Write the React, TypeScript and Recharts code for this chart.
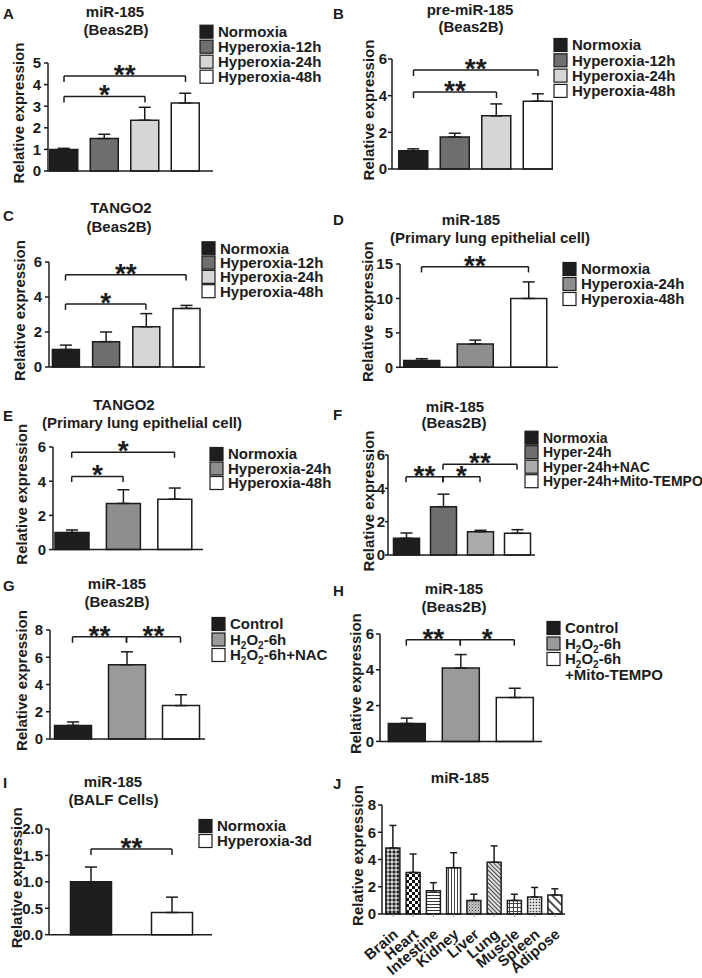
import { BarChart, Bar, XAxis, YAxis, Cell, ErrorBar, ReferenceLine } from 'recharts'

const INK = '#1c1c1c'
const FONT = '"Liberation Sans", Arial, Helvetica, sans-serif'

// ---- data ----
const catsA = ['Normoxia', 'Hyperoxia-12h', 'Hyperoxia-24h', 'Hyperoxia-48h']
const valsA = [1.0, 1.5, 2.35, 3.15]
const errsA = [0.05, 0.2, 0.6, 0.45]
const ticksA = [0, 1, 2, 3, 4, 5]
const bracketsA = [
  { from: 'Normoxia', to: 'Hyperoxia-24h', y: 3.45, text: '*' },
  { from: 'Normoxia', to: 'Hyperoxia-48h', y: 4.4, text: '**' },
]

const catsB = ['Normoxia', 'Hyperoxia-12h', 'Hyperoxia-24h', 'Hyperoxia-48h']
const valsB = [1.0, 1.75, 2.9, 3.7]
const errsB = [0.1, 0.2, 0.65, 0.4]
const ticksB = [0, 2, 4, 6]
const bracketsB = [
  { from: 'Normoxia', to: 'Hyperoxia-24h', y: 4.2, text: '**' },
  { from: 'Normoxia', to: 'Hyperoxia-48h', y: 5.4, text: '**' },
]

const catsC = ['Normoxia', 'Hyperoxia-12h', 'Hyperoxia-24h', 'Hyperoxia-48h']
const valsC = [1.0, 1.45, 2.3, 3.35]
const errsC = [0.25, 0.55, 0.75, 0.17]
const ticksC = [0, 2, 4, 6]
const bracketsC = [
  { from: 'Normoxia', to: 'Hyperoxia-24h', y: 3.6, text: '*' },
  { from: 'Normoxia', to: 'Hyperoxia-48h', y: 5.27, text: '**' },
]

const catsD = ['Normoxia', 'Hyperoxia-24h', 'Hyperoxia-48h']
const valsD = [1.0, 3.4, 10.0]
const errsD = [0.25, 0.55, 2.4]
const ticksD = [0, 5, 10, 15]
const bracketsD = [{ from: 'Normoxia', to: 'Hyperoxia-48h', y: 14.6, text: '**' }]

const catsE = ['Normoxia', 'Hyperoxia-24h', 'Hyperoxia-48h']
const valsE = [1.0, 2.7, 2.95]
const errsE = [0.15, 0.8, 0.65]
const ticksE = [0, 2, 4, 6]
const bracketsE = [
  { from: 'Normoxia', to: 'Hyperoxia-24h', y: 4.28, text: '*' },
  { from: 'Normoxia', to: 'Hyperoxia-48h', y: 5.7, text: '*' },
]

const catsF = ['Normoxia', 'Hyper-24h', 'Hyper-24h+NAC', 'Hyper-24h+Mito-TEMPO']
const valsF = [1.0, 2.9, 1.4, 1.3]
const errsF = [0.32, 0.75, 0.08, 0.22]
const ticksF = [0, 2, 4, 6]
const bracketsF = [
  { from: 'Normoxia', to: 'Hyper-24h', y: 4.7, text: '**' },
  { from: 'Hyper-24h', to: 'Hyper-24h+NAC', y: 4.7, text: '*' },
  { from: 'Hyper-24h', to: 'Hyper-24h+Mito-TEMPO', y: 5.45, text: '**' },
]

const catsG = ['Control', 'H2O2-6h', 'H2O2-6h+NAC']
const valsG = [1.0, 5.45, 2.45]
const errsG = [0.25, 0.95, 0.8]
const ticksG = [0, 2, 4, 6, 8]
const bracketsG = [
  { from: 'Control', to: 'H2O2-6h', y: 7.5, text: '**' },
  { from: 'H2O2-6h', to: 'H2O2-6h+NAC', y: 7.5, text: '**' },
]

const catsH = ['Control', 'H2O2-6h', 'H2O2-6h+Mito-TEMPO']
const valsH = [1.0, 4.1, 2.45]
const errsH = [0.3, 0.75, 0.52]
const ticksH = [0, 2, 4, 6]
const bracketsH = [
  { from: 'Control', to: 'H2O2-6h', y: 5.68, text: '**' },
  { from: 'H2O2-6h', to: 'H2O2-6h+Mito-TEMPO', y: 5.68, text: '*' },
]

const catsI = ['Normoxia', 'Hyperoxia-3d']
const valsI = [1.0, 0.42]
const errsI = [0.28, 0.29]
const ticksI = [0, 0.5, 1.0, 1.5, 2.0]
const bracketsI = [{ from: 'Normoxia', to: 'Hyperoxia-3d', y: 1.62, text: '**' }]

const catsJ = ['Brain', 'Heart', 'Intestine', 'Kidney', 'Liver', 'Lung', 'Muscle', 'Spleen', 'Adipose']
const valsJ = [4.85, 3.05, 1.7, 3.4, 1.0, 3.8, 1.0, 1.25, 1.4]
const errsJ = [1.65, 1.35, 0.6, 1.1, 0.45, 1.2, 0.45, 0.7, 0.45]
const ticksJ = [0, 2, 4, 6, 8]

// ---- styles ----
const fillsTime = ['#1e1e1e', '#6f6f6f', '#d6d6d6', '#ffffff']
const fillsPrim = ['#1e1e1e', '#8e8e8e', '#ffffff']
const fillsF = ['#1e1e1e', '#6e6e6e', '#ababab', '#ffffff']
const fillsH2O2 = ['#1e1e1e', '#9a9a9a', '#ffffff']
const fillsI = ['#1e1e1e', '#ffffff']
const fillsJ = ['url(#pBrain)', 'url(#pHeart)', 'url(#pInt)', 'url(#pKid)', 'url(#pLiver)', 'url(#pLung)', 'url(#pMus)', 'url(#pSpl)', 'url(#pAdi)']

type Box = {
  axisX: number; right: number; top: number; bottom: number
  first: number; step: number; barW: number; cap: number; gap: number
  tickLen?: number; tickGap?: number
}
type Bracket = { from: string; to: string; y: number; text: string }

const YW = 45
const MT = 30
const MR = 6
const MB = 26

function YLabel(props: any) {
  const vb = props.viewBox || { x: 0, y: 0, width: YW, height: 100 }
  const x = vb.x + vb.width - props.gap
  const y = vb.y + vb.height / 2 - 4
  return (
    <text x={x} y={y} transform={`rotate(-90 ${x} ${y})`} textAnchor="middle" dominantBaseline="central"
      fontSize={15} fontWeight={700} fill={INK} fontFamily={FONT}>
      Relative expression
    </text>
  )
}

function AngleTick(props: any) {
  const { x, y, payload } = props
  const px = x + 6
  const py = y + 17
  return (
    <text x={px} y={py} transform={`rotate(-40 ${px} ${py})`} textAnchor="end" fontSize={15} fontWeight={700} fill={INK} fontFamily={FONT}>
      {payload.value}
    </text>
  )
}

function PatternDefs() {
  return (
    <defs>
      <pattern id="pBrain" width="4" height="4" patternUnits="userSpaceOnUse">
        <rect width="4" height="4" fill="#8a8a8a" />
        <rect width="2" height="2" fill="#222" />
        <rect x="2" y="2" width="2" height="2" fill="#d4d4d4" />
      </pattern>
      <pattern id="pHeart" width="6" height="6" patternUnits="userSpaceOnUse">
        <rect width="6" height="6" fill="#fff" />
        <rect width="3" height="3" fill="#111" />
        <rect x="3" y="3" width="3" height="3" fill="#111" />
      </pattern>
      <pattern id="pInt" width="4" height="3" patternUnits="userSpaceOnUse">
        <rect width="4" height="3" fill="#fff" />
        <line x1="0" y1="0.5" x2="4" y2="0.5" stroke="#333" strokeWidth="1" />
      </pattern>
      <pattern id="pKid" width="3" height="4" patternUnits="userSpaceOnUse">
        <rect width="3" height="4" fill="#fff" />
        <line x1="0.5" y1="0" x2="0.5" y2="4" stroke="#444" strokeWidth="1" />
      </pattern>
      <pattern id="pLiver" width="3" height="3" patternUnits="userSpaceOnUse">
        <rect width="3" height="3" fill="#c4c4c4" />
        <rect width="1" height="1" fill="#555" />
        <rect x="1.5" y="1.5" width="1" height="1" fill="#777" />
      </pattern>
      <pattern id="pLung" width="3" height="3" patternUnits="userSpaceOnUse" patternTransform="rotate(-45)">
        <rect width="3" height="3" fill="#e0e0e0" />
        <line x1="0.5" y1="0" x2="0.5" y2="3" stroke="#444" strokeWidth="1" />
      </pattern>
      <pattern id="pMus" width="4" height="4" patternUnits="userSpaceOnUse">
        <rect width="4" height="4" fill="#fff" />
        <path d="M0 0.5H4M0.5 0V4" stroke="#444" strokeWidth="1" />
      </pattern>
      <pattern id="pSpl" width="3" height="3" patternUnits="userSpaceOnUse">
        <rect width="3" height="3" fill="#e4e4e4" />
        <circle cx="1.5" cy="1.5" r="0.8" fill="#333" />
      </pattern>
      <pattern id="pAdi" width="6" height="6" patternUnits="userSpaceOnUse" patternTransform="rotate(-45)">
        <rect width="6" height="6" fill="#fff" />
        <line x1="1" y1="0" x2="1" y2="6" stroke="#222" strokeWidth="1.6" />
      </pattern>
    </defs>
  )
}

interface PanelProps {
  cats: string[]
  vals: number[]
  errs: number[]
  fills: string[]
  ticks: number[]
  brackets?: Bracket[]
  box: Box
  fmt?: (v: number) => string
  angled?: boolean
}

function Panel({ cats, vals, errs, fills, ticks, brackets = [], box, fmt, angled = false }: PanelProps) {
  const xh = angled ? 66 : 8
  const mb = angled ? 0 : MB
  const plotW = box.right - box.axisX
  const plotH = box.bottom - box.top
  // category band placement so bars line up with the figure
  const padL = box.first - box.axisX - box.step / 2
  const padR = plotW - padL - cats.length * box.step
  const ymax = ticks[ticks.length - 1]
  const drop = ymax * 0.055
  const data = cats.map((name, i) => ({ name, value: vals[i], err: [0, errs[i]] }))
  const line = { stroke: INK, strokeWidth: 1.5 }

  return (
    <div style={{ position: 'absolute', left: box.axisX - YW, top: box.top - MT }}>
      <BarChart
        width={YW + plotW + MR}
        height={MT + plotH + xh + mb}
        data={data}
        margin={{ top: MT, right: MR, left: 0, bottom: mb }}
      >
        {angled && <PatternDefs />}
        <XAxis
          dataKey="name"
          padding={{ left: padL, right: padR }}
          axisLine={line}
          tickLine={{ stroke: '#9a9a9a' }}
          tickSize={3}
          height={xh}
          interval={0}
          tick={angled ? <AngleTick /> : false}
        />
        <YAxis
          width={YW}
          domain={[0, ymax]}
          ticks={ticks}
          interval={0}
          tickFormatter={fmt}
          axisLine={line}
          tickLine={line}
          tickSize={box.tickLen ?? 4}
          tickMargin={box.tickGap ?? 3}
          tick={{ fontSize: 15, fontWeight: 700, fill: INK, fontFamily: FONT }}
          label={<YLabel gap={box.gap} />}
        />
        <Bar dataKey="value" barSize={box.barW} stroke={INK} strokeWidth={1.5} isAnimationActive={false}>
          {cats.map((c, i) => (
            <Cell key={c} fill={fills[i]} />
          ))}
          <ErrorBar dataKey="err" direction="y" width={box.cap} stroke={INK} strokeWidth={1.5} isAnimationActive={false} />
        </Bar>
        {brackets.map((b, i) => (
          <ReferenceLine
            key={`h${i}`}
            segment={[{ x: b.from, y: b.y }, { x: b.to, y: b.y }]}
            stroke={INK}
            strokeWidth={1.5}
            label={{ value: b.text, position: 'top', offset: -8, fill: INK, fontSize: 28, fontWeight: 700, fontFamily: FONT }}
          />
        ))}
        {brackets.map((b, i) => (
          <ReferenceLine key={`l${i}`} segment={[{ x: b.from, y: b.y }, { x: b.from, y: b.y - drop }]} stroke={INK} strokeWidth={1.5} />
        ))}
        {brackets.map((b, i) => (
          <ReferenceLine key={`r${i}`} segment={[{ x: b.to, y: b.y }, { x: b.to, y: b.y - drop }]} stroke={INK} strokeWidth={1.5} />
        ))}
      </BarChart>
    </div>
  )
}

// ---- legends / titles (layout only) ----
function Chem({ label }: { label: string }) {
  if (!label.startsWith('H2O2')) return <>{label}</>
  const rest = label.slice(4)
  return (
    <>
      H<tspan fontSize="10" dy="4">2</tspan>
      <tspan dy="-4">O</tspan>
      <tspan fontSize="10" dy="4">2</tspan>
      <tspan dy="-4">{rest}</tspan>
    </>
  )
}

interface LegendProps {
  cats: string[]
  fills: string[]
  sx: number
  y0: number
  dy: number
  fs?: number
  wrap?: boolean
}

function Legend({ cats, fills, sx, y0, dy, fs = 15, wrap = false }: LegendProps) {
  const rows: { text: string; fill?: string }[] = []
  cats.forEach((c, i) => {
    if (wrap && c.includes('+') && c.startsWith('H2O2')) {
      const k = c.indexOf('+')
      rows.push({ text: c.slice(0, k), fill: fills[i] })
      rows.push({ text: c.slice(k) })
    } else rows.push({ text: c, fill: fills[i] })
  })
  return (
    <g>
      {rows.map((r, i) => {
        const cy = y0 + i * dy
        return (
          <g key={i}>
            {r.fill && <rect x={sx} y={cy - 6.5} width={13} height={13} fill={r.fill} stroke={INK} strokeWidth={1.2} />}
            <text x={sx + 18} y={cy + fs * 0.36} fontSize={fs} fontWeight={700} fill={INK}>
              <Chem label={r.text} />
            </text>
          </g>
        )
      })}
    </g>
  )
}

const titles = [
  { x: 115, y: 17, t: 'miR-185' }, { x: 116, y: 35, t: '(Beas2B)' },
  { x: 470, y: 15, t: 'pre-miR-185' }, { x: 471, y: 32, t: '(Beas2B)' },
  { x: 121, y: 213, t: 'TANGO2' }, { x: 119, y: 232, t: '(Beas2B)' },
  { x: 471, y: 225, t: 'miR-185' }, { x: 490, y: 243, t: '(Primary lung epithelial cell)' },
  { x: 124, y: 410, t: 'TANGO2' }, { x: 142, y: 428, t: '(Primary lung epithelial cell)' },
  { x: 455, y: 412, t: 'miR-185' }, { x: 454, y: 428, t: '(Beas2B)' },
  { x: 117, y: 589, t: 'miR-185' }, { x: 117, y: 607, t: '(Beas2B)' },
  { x: 454, y: 594, t: 'miR-185' }, { x: 454, y: 612, t: '(Beas2B)' },
  { x: 113, y: 787, t: 'miR-185' }, { x: 113.5, y: 805, t: '(BALF Cells)' },
  { x: 460, y: 783, t: 'miR-185' },
]

const letters = [
  { x: 3, y: 18.5, t: 'A' }, { x: 333, y: 18.5, t: 'B' },
  { x: 3, y: 221, t: 'C' }, { x: 333, y: 225, t: 'D' },
  { x: 3, y: 421, t: 'E' }, { x: 333, y: 420, t: 'F' },
  { x: 3, y: 591, t: 'G' }, { x: 333, y: 596, t: 'H' },
  { x: 3, y: 788, t: 'I' }, { x: 333, y: 789, t: 'J' },
]

const fmtDec = (v: number) => v.toFixed(1)

export default function App() {
  return (
    <div style={{ position: 'absolute', left: 0, top: 0, width: 702, height: 978, background: '#fff', fontFamily: FONT, overflow: 'hidden' }}>
      <style>{'.recharts-surface{overflow:visible}'}</style>
      <Panel cats={catsA} vals={valsA} errs={errsA} fills={fillsTime} ticks={ticksA} brackets={bracketsA}
        box={{ axisX: 48, right: 213, top: 63, bottom: 171, first: 64, step: 40.5, barW: 28, cap: 6, gap: 30 }} />
      <Panel cats={catsB} vals={valsB} errs={errsB} fills={fillsTime} ticks={ticksB} brackets={bracketsB}
        box={{ axisX: 392, right: 553, top: 59.3, bottom: 169.3, first: 413.5, step: 41.5, barW: 29, cap: 6, gap: 24, tickGap: 1 }} />
      <Panel cats={catsC} vals={valsC} errs={errsC} fills={fillsTime} ticks={ticksC} brackets={bracketsC}
        box={{ axisX: 49, right: 205, top: 262.3, bottom: 367.3, first: 65.5, step: 40.2, barW: 27, cap: 6, gap: 30 }} />
      <Panel cats={catsD} vals={valsD} errs={errsD} fills={fillsPrim} ticks={ticksD} brackets={bracketsD}
        box={{ axisX: 400, right: 558, top: 264, bottom: 367.3, first: 421.5, step: 53.5, barW: 36, cap: 6, gap: 32.5 }} />
      <Panel cats={catsE} vals={valsE} errs={errsE} fills={fillsPrim} ticks={ticksE} brackets={bracketsE}
        box={{ axisX: 53, right: 203, top: 446.7, bottom: 549.3, first: 71.7, step: 51.4, barW: 34, cap: 6, gap: 32 }} />
      <Panel cats={catsF} vals={valsF} errs={errsF} fills={fillsF} ticks={ticksF} brackets={bracketsF}
        box={{ axisX: 388, right: 535, top: 455, bottom: 555, first: 406, step: 37, barW: 26, cap: 6, gap: 20, tickLen: 3, tickGap: 0 }} />
      <Panel cats={catsG} vals={valsG} errs={errsG} fills={fillsH2O2} ticks={ticksG} brackets={bracketsG}
        box={{ axisX: 50, right: 205, top: 630, bottom: 739, first: 72.5, step: 54, barW: 37, cap: 6, gap: 28.5 }} />
      <Panel cats={catsH} vals={valsH} errs={errsH} fills={fillsH2O2} ticks={ticksH} brackets={bracketsH}
        box={{ axisX: 380, right: 542, top: 634.3, bottom: 741.7, first: 406.3, step: 54, barW: 37, cap: 6, gap: 24, tickGap: 2 }} />
      <Panel cats={catsI} vals={valsI} errs={errsI} fills={fillsI} ticks={ticksI} brackets={bracketsI} fmt={fmtDec}
        box={{ axisX: 49, right: 212, top: 829.3, bottom: 935, first: 91, step: 81, barW: 41, cap: 6, gap: 32.5, tickGap: 2 }} />
      <Panel cats={catsJ} vals={valsJ} errs={errsJ} fills={fillsJ} ticks={ticksJ} angled
        box={{ axisX: 382, right: 565, top: 805, bottom: 914, first: 393, step: 20.25, barW: 14, cap: 3.5, gap: 25, tickGap: 2 }} />

      <svg width={702} height={978} style={{ position: 'absolute', left: 0, top: 0, pointerEvents: 'none' }}>
        {letters.map((l) => (
          <text key={l.t} x={l.x} y={l.y} fontSize={15} fontWeight={700} fill={INK}>{l.t}</text>
        ))}
        {titles.map((t, i) => (
          <text key={i} x={t.x} y={t.y} textAnchor="middle" fontSize={15} fontWeight={700} fill={INK}>{t.t}</text>
        ))}
        <Legend cats={catsA} fills={fillsTime} sx={200} y0={31.7} dy={15} />
        <Legend cats={catsB} fills={fillsTime} sx={554} y0={45} dy={15.3} />
        <Legend cats={catsC} fills={fillsTime} sx={202} y0={248.3} dy={14.3} />
        <Legend cats={catsD} fills={fillsPrim} sx={563} y0={269} dy={15} />
        <Legend cats={catsE} fills={fillsPrim} sx={210} y0={454} dy={14.5} />
        <Legend cats={catsF} fills={fillsF} sx={525} y0={437.7} dy={14.5} fs={14} />
        <Legend cats={catsG} fills={fillsH2O2} sx={212} y0={624} dy={15.5} />
        <Legend cats={catsH} fills={fillsH2O2} sx={547} y0={628} dy={15.5} wrap />
        <Legend cats={catsI} fills={fillsI} sx={199} y0={826} dy={15} />
      </svg>
    </div>
  )
}
